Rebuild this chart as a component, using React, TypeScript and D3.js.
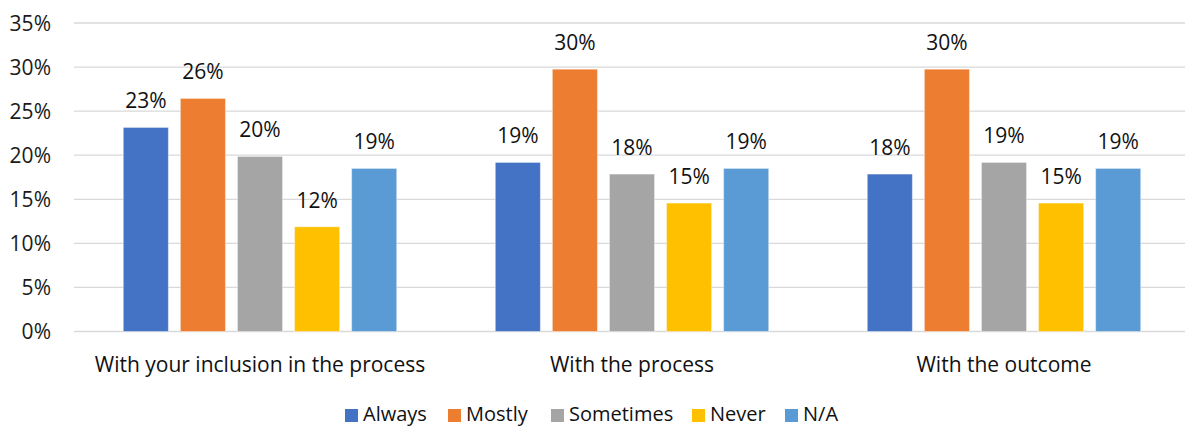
import React from "react";
import * as d3 from "d3";

const categories = ["With your inclusion in the process", "With the process", "With the outcome"];
const seriesNames = ["Always", "Mostly", "Sometimes", "Never", "N/A"];
const seriesColors = ["#4472C4", "#ED7D31", "#A5A5A5", "#FFC000", "#5B9BD5"];
const always = [23.15, 19.18, 17.86];
const mostly = [26.44, 29.76, 29.76];
const sometimes = [19.86, 17.86, 19.18];
const never = [11.88, 14.57, 14.57];
const na = [18.5, 18.5, 18.5];
const yTicks = [0, 5, 10, 15, 20, 25, 30, 35];

const seriesValues = [always, mostly, sometimes, never, na];

const W = 1185;
const H = 426;
const FONT = "'Open Sans', sans-serif";

export default function App() {
  const x0 = d3.scaleBand().domain(categories).range([74, 1190]).paddingInner(0).paddingOuter(0);
  const groupSpan = 273.4;
  const x1 = d3
    .scaleBand()
    .domain(seriesNames)
    .range([0, groupSpan])
    .paddingInner(12 / 57)
    .paddingOuter(0);
  const y = d3.scaleLinear().domain([0, 35]).range([331.5, 23]);

  const legendX = [345, 448, 551, 692, 785];

  return (
    <svg
      width={W}
      height={H}
      style={{ position: "absolute", left: 0, top: 0, background: "#fff" }}
      fontFamily={FONT}
    >
      <rect x={0} y={0} width={W} height={H} fill="#fff" />
      {yTicks.map((t) => (
        <g key={t}>
          <line x1={74} x2={1190} y1={y(t)} y2={y(t)} stroke="#D9D9D9" strokeWidth={1.3} />
          <text x={51} y={y(t)} dy="0.36em" textAnchor="end" fontSize={21} fill="#1a1a1a">
            {t}%
          </text>
        </g>
      ))}
      {categories.map((c, ci) => {
        const gx = x0(c)! + (x0.bandwidth() - groupSpan) / 2;
        return (
          <g key={c}>
            {seriesNames.map((s, si) => {
              const v = seriesValues[si][ci];
              const bx = gx + x1(s)!;
              return (
                <g key={s}>
                  <rect
                    x={bx}
                    y={y(v)}
                    width={x1.bandwidth()}
                    height={y(0) - y(v)}
                    fill={seriesColors[si]}
                    stroke="#fff"
                    strokeOpacity={0.4}
                    strokeWidth={1}
                  />
                  <text
                    x={bx + x1.bandwidth() / 2}
                    y={y(v) - 19}
                    textAnchor="middle"
                    fontSize={21}
                    fill="#111"
                  >
                    {Math.round(v)}%
                  </text>
                </g>
              );
            })}
            <text
              x={x0(c)! + x0.bandwidth() / 2}
              y={371.5}
              textAnchor="middle"
              fontSize={21}
              fill="#111"
            >
              {c}
            </text>
          </g>
        );
      })}
      {seriesNames.map((s, si) => (
        <g key={s}>
          <rect x={legendX[si]} y={409} width={13} height={13} fill={seriesColors[si]} />
          <text x={legendX[si] + 18} y={421} fontSize={20} fill="#111">
            {s}
          </text>
        </g>
      ))}
    </svg>
  );
}
